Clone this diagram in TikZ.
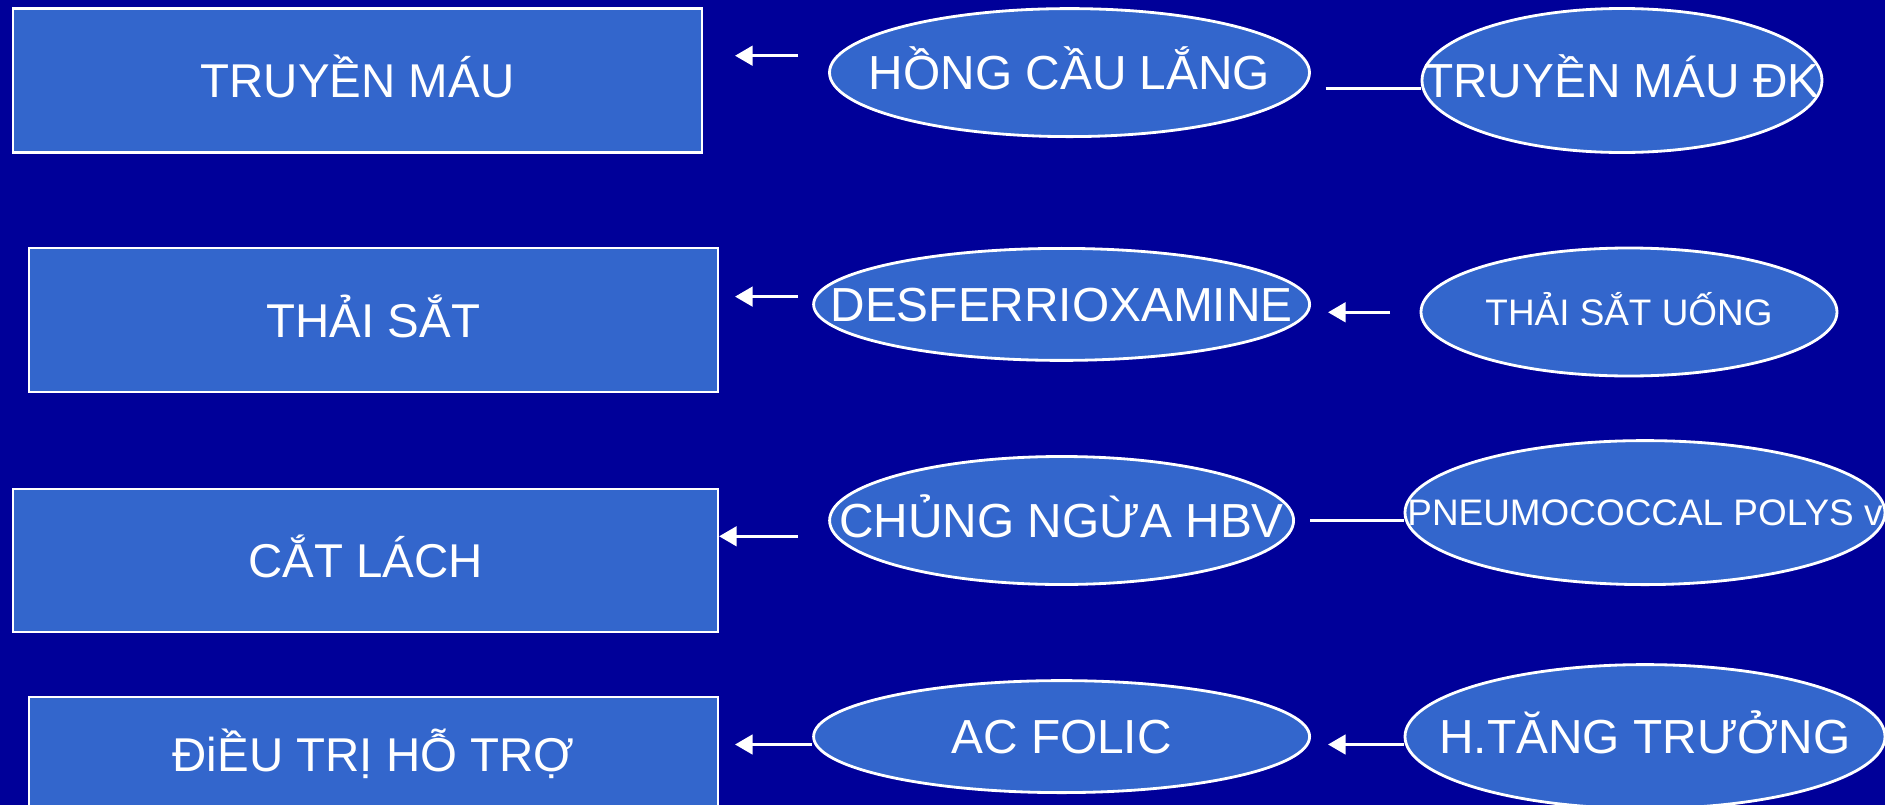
\documentclass[tikz,border=0pt]{standalone}
\usepackage{fontspec}
\setmainfont{Liberation Sans}
\usetikzlibrary{arrows.meta, shapes}
\definecolor{slidebg}{RGB}{0,0,153}
\definecolor{boxfill}{RGB}{51,102,204}

\begin{document}
\begin{tikzpicture}[
  box/.style={rectangle, draw=white, line width=0.6pt, fill=boxfill, text=white,
    minimum width=6.89cm, minimum height=1.44cm, text height=9.7pt, text depth=0pt,
    font=\fontsize{13.5}{16}\selectfont},
  oval/.style={ellipse, draw=white, line width=0.8pt, fill=boxfill, text=white,
    inner xsep=-1cm, inner ysep=-1cm, text height=9.7pt, text depth=0pt,
    font=\fontsize{13.6}{16}\selectfont},
  small/.style={font=\fontsize{10.5}{13}\selectfont, text height=7.5pt},
  link/.style={draw=white, line width=1pt},
  arr/.style={link, -{Triangle[length=5pt, width=5.5pt]}}
]
\useasboundingbox (0,0) rectangle (18.98,-8.05);
\fill[slidebg] (0,0) rectangle (18.85,-8.05);
\clip (0,0) rectangle (18.85,-8.05);

% treatments
\node[box] (truyen) at (3.575,-0.805) {TRUYỀN MÁU};
\node[box] (thaisat) at (3.735,-3.20) {THẢI SẮT};
\node[box, minimum width=7.05cm, minimum height=1.43cm] (catlach) at (3.655,-5.605) {CẮT LÁCH};
\node[box, minimum height=1.14cm] (dieutri) at (3.735,-7.54) {ĐiỀU TRỊ HỖ TRỢ};

% middle column
\node[oval, minimum width=4.80cm, minimum height=1.28cm] (hongcau) at (10.695,-0.726) {HỒNG CẦU LẮNG};
\node[oval, minimum width=4.96cm, minimum height=1.12cm] (desferal) at (10.616,-3.044) {DESFERRIOXAMINE};
\node[oval, minimum width=4.64cm, minimum height=1.28cm] (hbv) at (10.616,-5.205) {CHỦNG NGỪA HBV};
\node[oval, minimum width=4.96cm, minimum height=1.12cm] (folic) at (10.616,-7.366) {AC FOLIC};

% right column
\node[oval, minimum width=4.00cm, minimum height=1.44cm] (truyendk) at (16.22,-0.805) {TRUYỀN MÁU ĐK};
\node[oval, small, minimum width=4.16cm, minimum height=1.28cm] (uong) at (16.29,-3.12) {THẢI SẮT UỐNG};
\node[oval, small, minimum width=4.80cm, minimum height=1.44cm] (pneumo) at (16.45,-5.126) {PNEUMOCOCCAL POLYS v};
\node[oval, minimum width=4.80cm, minimum height=1.44cm] (tangtruong) at (16.45,-7.366) {H.TĂNG TRƯỞNG};

\coordinate (hc-out) at (7.98,-0.557);
\coordinate (tm-in) at (7.35,-0.557);
\coordinate (dk-out) at (13.255,-0.884);
\coordinate (df-out) at (7.98,-2.966);
\coordinate (ts-in) at (7.35,-2.966);
\coordinate (uo-out) at (13.90,-3.123);
\coordinate (df-in) at (13.28,-3.123);
\coordinate (hb-out) at (7.98,-5.363);
\coordinate (hb-end) at (13.10,-5.205);
\coordinate (dt-in) at (7.35,-7.445);
\coordinate (fo-in) at (13.28,-7.445);

\draw [arr] (hc-out) -- (tm-in);
\draw [link] (dk-out) -- (dk-out -| truyendk.west);
\draw [arr] (df-out) -- (ts-in);
\draw [arr] (uo-out) -- (df-in);
\draw [arr] (hb-out) -- (hb-out -| catlach.east);
\draw [link] (hb-end) -- (hb-end -| pneumo.west);
\draw [arr] (folic.west |- dt-in) -- (dt-in);
\draw [arr] (tangtruong.west |- fo-in) -- (fo-in);
\end{tikzpicture}
\end{document}
